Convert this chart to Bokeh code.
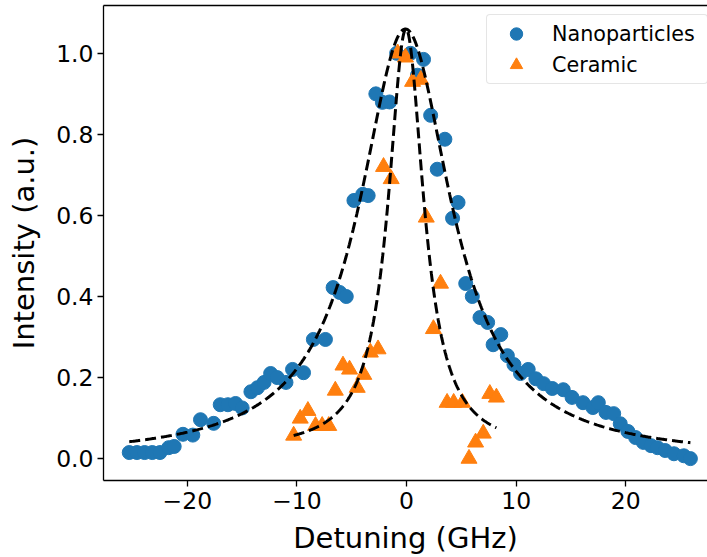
import numpy as np
from bokeh.plotting import figure
from bokeh.models import Range1d, FixedTicker, LinearAxis, Legend, LegendItem
from bokeh.embed import file_html
from bokeh.resources import INLINE

# Nanoparticles data
nano_x = [-25.3, -24.6, -23.9, -23.2, -22.5, -21.7, -21.2, -20.4, -19.5, -18.8, -17.6,
          -17.0, -16.3, -15.6, -15.0, -14.2, -13.6, -13.0, -12.4, -11.8, -11.0, -10.4,
          -9.4, -8.5, -7.4, -6.7, -6.1, -5.5, -4.8, -4.0, -3.5, -2.8, -2.2, -1.55, -0.9,
          0.36, 1.0, 1.55, 2.2, 2.8, 3.5, 4.2, 4.7, 5.4, 6.0, 6.7, 7.4, 7.9, 8.6, 9.2,
          9.8, 10.4, 11.1, 11.8, 12.5, 13.3, 14.3, 15.1, 16.1, 17.0, 17.5, 18.2, 18.9,
          19.5, 20.2, 20.9, 21.6, 22.3, 22.9, 23.6, 24.4, 25.3, 25.9]
nano_y = [0.015, 0.015, 0.015, 0.015, 0.015, 0.027, 0.03, 0.06, 0.058, 0.096, 0.087,
          0.133, 0.133, 0.136, 0.125, 0.165, 0.175, 0.188, 0.21, 0.20, 0.188, 0.22,
          0.212, 0.294, 0.294, 0.422, 0.41, 0.40, 0.637, 0.652, 0.649, 0.90, 0.879, 0.88, 1.0,
          1.0, 0.946, 0.985, 0.847, 0.714, 0.788, 0.593, 0.632, 0.432, 0.40, 0.348, 0.336,
          0.281, 0.306, 0.254, 0.232, 0.21, 0.22, 0.197, 0.185, 0.173, 0.17, 0.151, 0.138,
          0.126, 0.138, 0.114, 0.111, 0.086, 0.067, 0.052, 0.04, 0.032, 0.027, 0.02, 0.012,
          0.007, 0.0]

# Ceramic data
cer_x = [-10.3, -9.7, -9.0, -8.3, -7.7, -7.1, -6.5, -5.8, -5.2, -4.5, -3.9, -3.3, -2.6,
         -2.1, -1.4, -0.8, -0.1, 0.55, 1.3, 1.8, 2.45, 3.1, 3.7, 4.3, 5.1, 5.7, 6.3, 7.0,
         7.6, 8.2]
cer_y = [0.057, 0.099, 0.118, 0.081, 0.081, 0.081, 0.168, 0.23, 0.22, 0.175, 0.207, 0.262,
         0.27, 0.72, 0.69, 1.0, 0.99, 0.93, 0.935, 0.595, 0.32, 0.432, 0.138, 0.138, 0.138,
         0.0, 0.04, 0.062, 0.16, 0.151]

# Lorentzian fit parameters (amplitude, center, half width, offset, x span)
nano_fit = dict(amp=1.06, x0=-0.1, gamma=5.1, c=0.0, xmin=-25.3, xmax=25.9)
cer_fit = dict(amp=1.04, x0=-0.05, gamma=1.97, c=0.02, xmin=-10.3, xmax=8.2)

x_ticks = [-20, -10, 0, 10, 20]
x_tick_labels = ["\u221220", "\u221210", "0", "10", "20"]
y_ticks = [0.0, 0.2, 0.4, 0.6, 0.8, 1.0]
x_title = "Detuning (GHz)"
y_title = "Intensity (a.u.)"


def lorentz(f):
    xs = np.linspace(f["xmin"], f["xmax"], 600)
    ys = f["amp"] / (1 + ((xs - f["x0"]) / f["gamma"]) ** 2) + f["c"]
    return xs, ys


FONT = "DejaVu Sans"

p = figure(width=707, height=557, output_backend="svg", toolbar_location=None,
           x_range=Range1d(-27.65, 27.46), y_range=Range1d(-0.054, 1.118),
           min_border_left=103, min_border_right=0, min_border_top=5, min_border_bottom=77)
p.outline_line_color = None
p.xgrid.visible = False
p.ygrid.visible = False
p.background_fill_color = "white"
p.border_fill_color = "white"

nx, ny = lorentz(nano_fit)
cx, cy = lorentz(cer_fit)

r1 = p.scatter(nano_x, nano_y, size=14, color="#1f77b4", marker="circle")
r2 = p.scatter(cer_x, cer_y, size=16, color="#ff7f0e", marker="triangle")
p.line(nx, ny, line_color="black", line_width=3, line_dash="11 5")
p.line(cx, cy, line_color="black", line_width=3, line_dash="11 5")

for ax in (p.xaxis[0], p.yaxis[0]):
    ax.axis_line_color = "black"
    ax.axis_line_width = 1.3
    ax.major_tick_line_color = "black"
    ax.major_tick_line_width = 1.3
    ax.major_tick_out = 6
    ax.major_tick_in = 0
    ax.minor_tick_line_color = None
    ax.major_label_text_font = FONT
    ax.major_label_text_font_size = "23.5px"
    ax.major_label_text_color = "black"
    ax.axis_label_text_font = FONT
    ax.axis_label_text_font_size = "29px"
    ax.axis_label_text_font_style = "normal"
    ax.axis_label_text_color = "black"

p.xaxis.ticker = FixedTicker(ticks=x_ticks)
p.xaxis.major_label_overrides = {t: l for t, l in zip(x_ticks, x_tick_labels)}
p.yaxis.ticker = FixedTicker(ticks=y_ticks)
p.yaxis.major_label_overrides = {t: f"{t:.1f}" for t in y_ticks}
p.xaxis.axis_label = x_title
p.yaxis.axis_label = y_title
p.xaxis.major_label_standoff = 5
p.yaxis.major_label_standoff = 4
p.xaxis.axis_label_standoff = 9
p.yaxis.axis_label_standoff = 12

top = LinearAxis(ticker=FixedTicker(ticks=[]), major_label_text_font_size="0px",
                 axis_line_color="black", axis_line_width=1.3,
                 major_tick_line_color=None, minor_tick_line_color=None)
p.add_layout(top, "above")

legend = Legend(items=[LegendItem(label="Nanoparticles", renderers=[r1]),
                       LegendItem(label="Ceramic", renderers=[r2])],
                location=(383, 396))
legend.label_text_font = FONT
legend.label_text_font_size = "20.7px"
legend.label_text_color = "black"
legend.glyph_height = 31
legend.glyph_width = 52
legend.label_height = 31
legend.label_width = 152
legend.label_standoff = 10
legend.padding = 3
legend.spacing = 0
legend.margin = 0
legend.border_line_color = "#cccccc"
legend.border_line_width = 1.3
legend.border_radius = 4
legend.background_fill_alpha = 0.8
p.add_layout(legend, "center")

open("out.html", "w").write(file_html(p, INLINE))
